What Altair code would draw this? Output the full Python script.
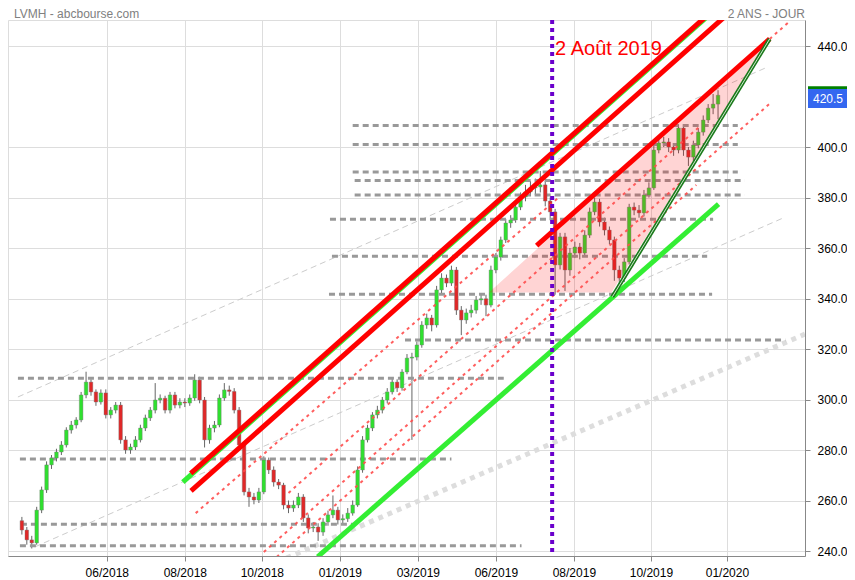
import altair as alt
import pandas as pd

# ---------------- data ----------------
opens = [252.0, 248.3, 244.4, 243.2, 256.2, 264.2, 274.1, 276.8, 279.2, 282.0,
         287.9, 289.9, 291.9, 301.8, 306.9, 303.0, 299.0, 302.6, 293.9, 295.8,
         297.8, 284.0, 280.0, 281.2, 284.0, 288.7, 292.7, 295.8, 299.8, 300.5,
         295.8, 301.8, 297.8, 299.0, 298.6, 300.6, 307.7, 299.8, 284.0, 288.7,
         289.9, 300.6, 303.8, 303.2, 295.8, 282.0, 263.4, 261.4, 260.2, 263.4,
         276.0, 272.1, 267.3, 266.1, 258.2, 257.0, 258.2, 261.4, 253.1, 249.1,
         249.5, 247.5, 251.5, 254.3, 256.2, 252.3, 252.8, 255.0, 258.2, 272.1,
         284.0, 288.7, 293.9, 295.8, 299.8, 303.0, 306.9, 304.6, 310.9, 316.4,
         316.8, 321.6, 329.5, 332.3, 329.5, 343.4, 348.1, 346.1, 351.3, 335.4,
         331.5, 334.3, 335.4, 339.4, 339.9, 337.4, 351.3, 356.4, 363.2, 369.9,
         371.1, 376.2, 380.2, 382.2, 383.8, 384.2, 385.0, 378.6, 374.3, 353.3,
         364.4, 351.3, 358.0, 360.4, 358.0, 365.1, 374.3, 378.2, 370.3, 367.1,
         363.2, 351.3, 348.1, 354.5, 376.2, 375.0, 373.9, 381.0, 383.8, 398.8,
         401.6, 402.0, 400.0, 398.8, 407.5, 398.8, 396.0, 400.8, 405.9, 410.7,
         415.4, 417.0]
closes = [248.3, 244.4, 243.2, 256.2, 264.2, 274.1, 276.8, 279.2, 282.0, 287.9,
          289.9, 291.9, 301.8, 306.9, 303.0, 299.0, 302.6, 293.9, 295.8, 297.8,
          284.0, 280.0, 281.2, 284.0, 288.7, 292.7, 295.8, 299.8, 300.5, 295.8,
          301.8, 297.8, 299.0, 298.6, 300.6, 307.7, 299.8, 284.0, 288.7, 289.9,
          300.6, 303.8, 303.2, 295.8, 282.0, 263.4, 261.4, 260.2, 263.4, 276.0,
          272.1, 267.3, 266.1, 258.2, 257.0, 258.2, 261.4, 253.1, 249.1, 249.5,
          247.5, 251.5, 254.3, 256.2, 252.3, 252.8, 255.0, 258.2, 272.1, 284.0,
          288.7, 293.9, 295.8, 299.8, 303.0, 306.9, 304.6, 310.9, 316.4, 316.8,
          321.6, 329.5, 332.3, 329.5, 343.4, 348.1, 346.1, 351.3, 335.4, 331.5,
          334.3, 335.4, 339.4, 339.9, 337.4, 351.3, 356.4, 363.2, 369.9, 371.1,
          376.2, 380.2, 382.2, 383.8, 384.2, 385.0, 378.6, 374.3, 353.3, 364.4,
          351.3, 358.0, 360.4, 358.0, 365.1, 374.3, 378.2, 370.3, 367.1, 363.2,
          351.3, 348.1, 354.5, 376.2, 375.0, 373.9, 381.0, 383.8, 398.8, 401.6,
          402.0, 400.0, 398.8, 407.5, 398.8, 396.0, 400.8, 405.9, 410.7, 415.4,
          417.0, 420.5]
highs = [253.5, 249.5, 246.0, 257.5, 265.5, 275.5, 278.0, 280.5, 283.5, 289.0,
         291.5, 293.0, 303.0, 311.0, 308.0, 304.0, 304.0, 304.0, 297.0, 299.0,
         299.0, 285.5, 282.5, 285.5, 290.0, 294.0, 297.0, 306.5, 302.0, 301.5,
         303.0, 303.0, 300.5, 300.5, 302.0, 310.0, 309.0, 301.0, 290.0, 291.5,
         302.0, 306.5, 305.5, 304.5, 297.0, 283.0, 265.0, 263.0, 265.0, 277.5,
         277.0, 273.5, 268.5, 267.0, 260.0, 260.0, 263.0, 262.5, 254.5, 251.5,
         251.0, 253.0, 256.0, 262.0, 257.5, 254.5, 257.0, 260.0, 273.5, 285.5,
         290.0, 295.0, 297.5, 301.0, 304.5, 308.5, 308.0, 312.0, 318.0, 318.5,
         323.0, 331.0, 334.0, 333.5, 345.0, 350.0, 349.5, 353.0, 352.5, 337.0,
         336.0, 337.5, 341.0, 342.0, 341.5, 353.0, 358.0, 364.5, 371.5, 373.0,
         378.0, 382.0, 385.0, 386.5, 387.5, 390.5, 386.5, 380.0, 375.5, 366.0,
         366.0, 360.0, 362.5, 362.0, 367.0, 376.0, 380.0, 379.5, 372.0, 368.5,
         364.5, 353.0, 356.0, 377.5, 378.0, 377.0, 383.0, 386.0, 400.5, 403.5,
         404.0, 403.5, 401.5, 409.0, 408.5, 400.0, 402.5, 407.5, 412.5, 417.0,
         421.0, 422.5]
lows = [246.5, 242.5, 241.0, 242.5, 255.0, 263.0, 272.5, 275.5, 278.0, 281.0,
        286.5, 288.5, 291.0, 300.5, 301.5, 297.5, 298.0, 292.5, 292.5, 294.5,
        282.5, 278.5, 278.5, 280.0, 283.0, 287.5, 291.5, 294.5, 298.5, 294.5,
        294.5, 296.5, 296.5, 297.0, 297.5, 299.5, 298.5, 281.0, 282.5, 287.0,
        289.0, 299.5, 301.5, 294.5, 280.5, 262.0, 257.5, 258.5, 259.0, 262.5,
        270.5, 265.5, 264.5, 256.5, 255.0, 255.5, 257.0, 251.5, 247.0, 247.5,
        244.0, 246.0, 250.0, 253.0, 250.5, 250.5, 251.5, 254.0, 257.5, 271.0,
        283.0, 287.5, 292.5, 294.5, 298.5, 302.0, 303.0, 303.5, 310.0, 284.0,
        315.5, 320.5, 328.0, 327.0, 328.5, 342.0, 344.5, 345.0, 333.5, 325.5,
        330.0, 332.5, 334.0, 337.5, 333.0, 336.5, 350.0, 355.0, 362.0, 368.0,
        370.0, 375.0, 378.5, 380.5, 381.0, 382.0, 376.5, 371.0, 341.5, 351.5,
        343.0, 349.0, 356.0, 355.5, 356.5, 364.0, 373.0, 368.5, 365.0, 361.5,
        347.0, 341.5, 346.5, 353.5, 373.0, 372.0, 372.5, 380.0, 383.0, 397.5,
        400.0, 398.0, 396.5, 397.5, 396.5, 392.5, 394.5, 399.5, 404.5, 409.5,
        413.0, 411.0]
session = list(range(len(closes)))

# x axis (session index) tick positions and their labels
tick_pos = [17.2, 33.0, 48.6, 64.4, 80.2, 96.0, 111.8, 127.4, 142.8]
tick_labels = ["06/2018", "08/2018", "10/2018", "01/2019", "03/2019",
               "06/2019", "08/2019", "10/2019", "01/2020"]
# 420 is hidden behind the last-price tag in the reference
price_ticks = [240, 260, 280, 300, 320, 340, 360, 380, 400, 440]

# horizontal support / resistance levels
hl_price = [408.5, 401.0, 390.1, 386.7, 381.0, 371.4, 356.7, 341.7, 323.6,
            308.4, 276.4, 250.6, 242.1]
hl_from = [67.0, 67.0, 67.0, 67.4, 67.4, 62.4, 62.8, 62.2, 77.6,
           -0.8, -0.4, -0.2, -0.4]
hl_to = [145.0, 145.0, 145.0, 146.4, 146.4, 140.0, 138.8, 139.8, 154.6,
         97.6, 87.0, 67.0, 101.2]

# thin red dashed channel lines
rd_x1 = [35.2, 49.0, 51.6, 54.0, 151.46]
rd_p1 = [255.0, 239.6, 237.6, 263.0, 442.8]
rd_x2 = [108.6, 151.6, 136.6, 137.6, 155.6]
rd_p2 = [379.8, 417.4, 385.0, 408.7, 449.9]

# thin light-grey dashed lines
gd_x1 = [-0.8, 2.6]
gd_p1 = [301.0, 241.6]
gd_x2 = [150.6, 154.2]
gd_p2 = [431.3, 371.9]

# thick light-grey dotted line
gt_x1, gt_p1, gt_x2, gt_p2 = [53.6], [237.2], [158.6], [325.9]

# solid trend lines
lime_x1 = [32.6, 59.9]
lime_p1 = [267.3, 237.7]
lime_x2 = [142.6, 141.1]
lime_p2 = [458.2, 377.4]

red_x1 = [34.2, 34.26, 104.26]
red_p1 = [270.7, 263.8, 360.9]
red_x2 = [142.6, 146.6, 151.46]
red_p2 = [458.7, 459.0, 442.8]

dg_x1, dg_p1, dg_x2, dg_p2 = [119.6], [340.7], [151.46], [442.8]

# wedge (triangle) vertices
tri_x = [94.6, 119.4, 151.46]
tri_p = [342.4, 342.4, 442.8]

event_x = 107.4
event_label = "2 Août 2019"
last_price = 420.5

# ---------------- chart ----------------
W, H = 797, 536
xs = alt.Scale(domain=[-1.8, 157.6], nice=False, zero=False)
ys = alt.Scale(domain=[238.02, 450.30], nice=False, zero=False)
FONT = "Liberation Sans"

label_expr = " : ".join(
    f"datum.value == {p} ? '{t}'" for p, t in zip(tick_pos, tick_labels)
) + " : ''"


def X(field):
    return alt.X(field, scale=xs, title=None)


def Y(field):
    return alt.Y(field, scale=ys, title=None)


candles = pd.DataFrame({"i": session, "o": opens, "c": closes,
                        "h": highs, "l": lows})
candles["dir"] = ["up" if c >= o else "down" for o, c in zip(opens, closes)]

axis_x = alt.X("i:Q", scale=xs, title=None,
               axis=alt.Axis(values=tick_pos, labelExpr=label_expr,
                             labelOverlap=False, labelFlush=False,
                             labelFontSize=12, labelPadding=6))
axis_y = alt.Y("l:Q", scale=ys, title=None,
               axis=alt.Axis(orient="right", values=price_ticks, format=".1f",
                             labelOverlap=False, labelFlush=False,
                             labelFontSize=12, labelPadding=7))

wicks = alt.Chart(candles).mark_rule(color="#666", strokeWidth=1, clip=True).encode(
    x=axis_x, y=axis_y, y2="h:Q")
bodies = alt.Chart(candles).mark_bar(width=3.6, stroke="#777", strokeWidth=0.4,
                                     clip=True).encode(
    x=X("i:Q"), y=Y("o:Q"), y2="c:Q",
    color=alt.Color("dir:N", scale=alt.Scale(domain=["up", "down"],
                                             range=["#2fe02f", "#e02828"]),
                    legend=None))


def seg_chart(x1, p1, x2, p2, **mark):
    df = pd.DataFrame({"x1": x1, "p1": p1, "x2": x2, "p2": p2})
    return alt.Chart(df).mark_rule(clip=True, **mark).encode(
        x=X("x1:Q"), x2="x2:Q", y=Y("p1:Q"), y2="p2:Q")


hlines = alt.Chart(pd.DataFrame({"p": hl_price, "a": hl_from, "b": hl_to})).mark_rule(
    color="#999999", strokeWidth=3, strokeDash=[6, 4], clip=True).encode(
    x=X("a:Q"), x2="b:Q", y=Y("p:Q"))

grey_thin = seg_chart(gd_x1, gd_p1, gd_x2, gd_p2, color="#cccccc",
                      strokeWidth=1, strokeDash=[6, 4])
grey_thick = seg_chart(gt_x1, gt_p1, gt_x2, gt_p2, color="#dddddd",
                       strokeWidth=5, strokeDash=[5, 5])
red_dash = seg_chart(rd_x1, rd_p1, rd_x2, rd_p2, color="#ff4d4d",
                     strokeWidth=2, strokeDash=[3, 4], opacity=0.9)

# wedge fill (vertex geometry)
top_mid = tri_p[0] + (tri_x[1] - tri_x[0]) / (tri_x[2] - tri_x[0]) * (tri_p[2] - tri_p[0])
tri_df = pd.DataFrame({"x": tri_x, "top": [tri_p[0], top_mid, tri_p[2]],
                       "bot": [tri_p[0], tri_p[1], tri_p[2]]})
wedge = alt.Chart(tri_df).mark_area(color="#ff0000", opacity=0.17, clip=True).encode(
    x=X("x:Q"), y=Y("top:Q"), y2="bot:Q")

lime = seg_chart(lime_x1, lime_p1, lime_x2, lime_p2, color="#33ee33", strokeWidth=5)
reds = seg_chart(red_x1, red_p1, red_x2, red_p2, color="#ff0000", strokeWidth=5)
dgreen = seg_chart(dg_x1, dg_p1, dg_x2, dg_p2, color="#1b7a1b", strokeWidth=4)
dgreen_in = seg_chart(dg_x1, dg_p1, dg_x2, dg_p2, color="#cfe8cf", strokeWidth=1)

event = alt.Chart(pd.DataFrame({"x": [event_x]})).mark_rule(
    color="#6a00cc", strokeWidth=4, strokeDash=[4, 4]).encode(x=X("x:Q"))
event_txt = alt.Chart(pd.DataFrame({"x": [108.0], "p": [438.8], "t": [event_label]})).mark_text(
    align="left", baseline="middle", fontSize=20, font=FONT, color="#ff0000").encode(
    x=X("x:Q"), y=Y("p:Q"), text="t:N")

title_l = alt.Chart(pd.DataFrame({"t": ["LVMH - abcbourse.com"]})).mark_text(
    align="left", baseline="top", fontSize=12, font=FONT, color="#808080").encode(
    x=alt.value(6), y=alt.value(-11), text="t:N")
title_r = alt.Chart(pd.DataFrame({"t": ["2 ANS - JOUR"]})).mark_text(
    align="right", baseline="top", fontSize=12, font=FONT, color="#808080").encode(
    x=alt.value(797), y=alt.value(-11), text="t:N")

tag_box = alt.Chart(pd.DataFrame({"a": [423.0], "b": [415.4]})).mark_rect(
    color="#3467f0").encode(x=alt.value(800), x2=alt.value(839),
                            y=Y("a:Q"), y2="b:Q")
tag_line = alt.Chart(pd.DataFrame({"a": [424.1], "b": [423.0]})).mark_rect(
    color="#008000").encode(x=alt.value(800), x2=alt.value(839),
                            y=Y("a:Q"), y2="b:Q")
tag_txt = alt.Chart(pd.DataFrame({"p": [419.0], "t": [f"{last_price:.1f}"]})).mark_text(
    align="left", baseline="middle", fontSize=12, font=FONT, color="white").encode(
    x=alt.value(805), y=Y("p:Q"), text="t:N")

chart = alt.layer(
    wicks, grey_thin, grey_thick, hlines, bodies, wedge, red_dash,
    lime, reds, dgreen, dgreen_in, event, event_txt,
    title_l, title_r, tag_box, tag_line, tag_txt
).properties(
    width=W, height=H,
    autosize=alt.AutoSizeParams(type="none"),
    padding={"left": 0, "top": 12, "right": 42, "bottom": 22},
).configure_view(strokeWidth=0).configure_axis(
    ticks=False, domain=False, grid=False, labelFont=FONT, labelColor="#111111"
).configure(background="white")

chart.save("out.html", embed_options={"renderer": "svg", "actions": False})
